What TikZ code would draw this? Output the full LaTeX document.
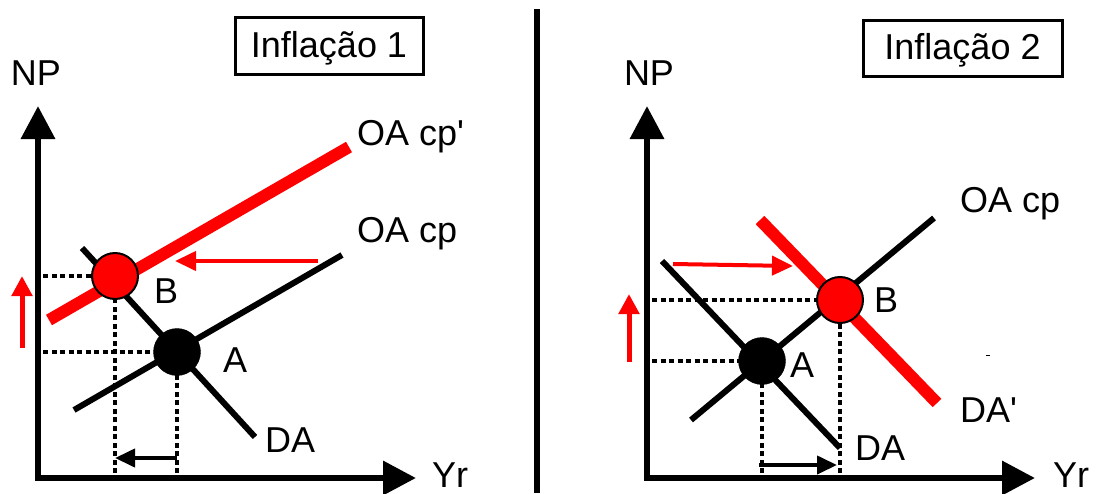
\documentclass[tikz,border=0pt]{standalone}
\usepackage{fontspec}
\newfontfamily\plainsans{Liberation Sans}
\usetikzlibrary{arrows.meta}
\begin{document}
\begin{tikzpicture}[x=1pt,y=-1pt,
  lbl/.style={inner sep=0pt, font=\plainsans\fontsize{36}{40}\selectfont},
  axis/.style={line width=6.5pt, line join=miter,
     {Triangle[length=33pt,width=33pt]}-{Triangle[length=33pt,width=33pt]}},
  curve/.style={line width=6pt},
  shifted/.style={line width=12pt, red},
  guide/.style={line width=3.3pt, dash pattern=on 5pt off 3.5pt},
  shiftarrow/.style={line width=4pt, -{Triangle[length=20pt,width=18pt]}},
  redarrow/.style={line width=4pt, red, -{Triangle[length=21pt,width=19pt]}},
  eqA/.style={circle, fill=black, draw=black, minimum size=47pt, inner sep=0pt},
  eqB/.style={circle, fill=red, draw=black, line width=2pt, minimum size=46pt, inner sep=0pt},
  titlebox/.style={draw, line width=3pt, inner sep=0pt, font=\plainsans\fontsize{36}{40}\selectfont,
     text height=26pt, text depth=3pt}
]
\useasboundingbox (0,0) rectangle (1097,493);

% divider
\coordinate (D-top) at (537,9);
\coordinate (D-bot) at (537,493);
\draw[line width=6pt] (D-top) -- (D-bot);

% ================= LEFT PANEL =================
\node[titlebox, minimum width=188pt, minimum height=57pt] (T1) at (329,45.5) {Inflação 1};

\coordinate (L-o) at (38,478);
\coordinate (L-yt) at (38,106);
\coordinate (L-xt) at (416,478);

\coordinate (L-oa1) at (74,410);
\coordinate (L-oa2) at (342,255);
\coordinate (L-oap1) at (49,320);
\coordinate (L-oap2) at (349,147);
\coordinate (L-da1) at (82,248);
\coordinate (L-da2) at (255,437);

\node[eqA, draw=none, fill=none] (LA) at (177,352) {};
\node[eqB, draw=none, fill=none] (LB) at (115,276) {};

% guides
\draw[guide] ([xshift=5pt]L-o |- LA) -- (LA.center);
\draw[guide] ([xshift=5pt]L-o |- LB) -- (LB.center);
\draw[guide] ([yshift=5pt]LA |- L-o) -- (LA.center);
\draw[guide] ([yshift=5pt]LB |- L-o) -- (LB.center);

\draw[axis] (L-yt) -- (L-o) -- (L-xt);

\draw[curve] (L-da1) -- (L-da2);
\draw[curve] (L-oa1) -- (L-oa2);
\draw[shifted] (L-oap1) -- (L-oap2);

\node[eqA] at (LA) {};
\node[eqB] at (LB) {};

% arrows
\coordinate (L-rs) at (318,261);
\coordinate (L-re) at (175,261);
\draw[redarrow] (L-rs) -- (L-re);
\coordinate (L-us) at (22,348);
\coordinate (L-ue) at (22,276);
\draw[redarrow, line width=5pt, -{Triangle[length=20pt,width=20pt]}] (L-us) -- (L-ue);
\coordinate (L-bs) at (177,458);
\coordinate (L-be) at (115,458);
\draw[shiftarrow] (L-bs) -- (L-be);

% labels
\node[lbl, anchor=base] (L-np) at (36,85) {NP};
\node[lbl, anchor=base] (L-yr) at (450,487) {Yr};
\node[lbl, anchor=base west] (L-oapl) at (357,145) {OA cp'};
\node[lbl, anchor=base west] (L-oal) at (357,242) {OA cp};
\node[lbl, anchor=base west] (L-bl) at (154,303) {B};
\node[lbl, anchor=base west] (L-al) at (223,372) {A};
\node[lbl, anchor=base west] (L-dal) at (265,452) {DA};

% ================= RIGHT PANEL =================
\node[titlebox, minimum width=199pt, minimum height=56pt] (T2) at (962.5,48) {Inflação 2};

\coordinate (R-o) at (647,478);
\coordinate (R-yt) at (647,106);
\coordinate (R-xt) at (1035,478);

\coordinate (R-oa1) at (691,420);
\coordinate (R-oa2) at (934,218);
\coordinate (R-da1) at (662,261);
\coordinate (R-da2) at (840,448);
\coordinate (R-dap1) at (760,220);
\coordinate (R-dap2) at (937,403);

\node[eqA, draw=none, fill=none] (RA) at (762,361) {};
\node[eqB, draw=none, fill=none] (RB) at (840,300) {};

\draw[guide] ([xshift=5pt]R-o |- RA) -- (RA.center);
\draw[guide] ([xshift=5pt]R-o |- RB) -- (RB.center);
\draw[guide] ([yshift=5pt]RA |- R-o) -- (RA.center);
\draw[guide] ([yshift=5pt]RB |- R-o) -- (RB.center);

\draw[axis] (R-yt) -- (R-o) -- (R-xt);

\draw[curve] (R-da1) -- (R-da2);
\draw[shifted] (R-dap1) -- (R-dap2);
\draw[curve] (R-oa1) -- (R-oa2);

\node[eqA] at (RA) {};
\node[eqB] at (RB) {};

\coordinate (R-rs) at (673,264);
\coordinate (R-re) at (793,266);
\draw[redarrow] (R-rs) -- (R-re);
\coordinate (R-us) at (629,362);
\coordinate (R-ue) at (629,294);
\draw[redarrow, line width=5pt, -{Triangle[length=20pt,width=20pt]}] (R-us) -- (R-ue);
\coordinate (R-bs) at (759,465);
\coordinate (R-be) at (837,465);
\draw[shiftarrow] (R-bs) -- (R-be);

% tiny stray mark
\coordinate (S1) at (986,355);
\coordinate (S2) at (990,355);
\draw[line width=1pt] (S1) -- (S2);

\node[lbl, anchor=base] (R-np) at (649,85) {NP};
\node[lbl, anchor=base] (R-yr) at (1071,487) {Yr};
\node[lbl, anchor=base west] (R-oal) at (960,212) {OA cp};
\node[lbl, anchor=base west] (R-bl) at (874,312) {B};
\node[lbl, anchor=base west] (R-al) at (790,377) {A};
\node[lbl, anchor=base west] (R-dal) at (855,460) {DA};
\node[lbl, anchor=base west] (R-dapl) at (960,422) {DA'};
\end{tikzpicture}
\end{document}
